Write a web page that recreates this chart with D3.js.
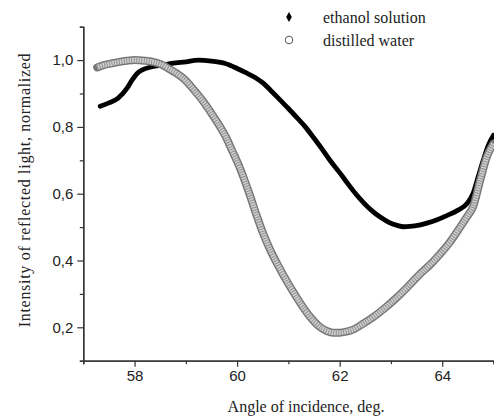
<!DOCTYPE html>
<html>
<head>
<meta charset="utf-8">
<script src="https://cdn.jsdelivr.net/npm/d3@7"></script>
<style>
  html, body { margin: 0; padding: 0; background: #fff; }
  svg { display: block; }
</style>
</head>
<body>
<div id="chart"></div>
<script>
// chart size
const width = 494;
const height = 418;

// data
const xTicks = [58, 60, 62, 64];
const xMinor = [57, 59, 61, 63, 65];
const yTicks = [0.2, 0.4, 0.6, 0.8, 1.0];
const yMinor = [0.1, 0.3, 0.5, 0.7, 0.9, 1.1];
const seriesNames = ["ethanol solution", "distilled water"];

const ethanolAngle = [57.33, 57.5, 57.68, 57.85, 57.95, 58.05, 58.14, 58.34, 58.55, 58.73,
  59.0, 59.24, 59.5, 59.77, 60.0, 60.16, 60.35, 60.49, 60.65, 60.84,
  61.0, 61.17, 61.33, 61.48, 61.65, 61.81, 62.0, 62.15, 62.3, 62.46,
  62.62, 62.79, 62.95, 63.12, 63.25, 63.37, 63.55, 63.7, 63.9, 64.1,
  64.3, 64.48, 64.6, 64.7, 64.8, 64.9, 65.0];
const ethanolIntensity = [0.862, 0.872, 0.886, 0.915, 0.94, 0.96, 0.97, 0.98, 0.985, 0.99,
  0.995, 1.0, 0.997, 0.99, 0.975, 0.963, 0.948, 0.933, 0.91, 0.88,
  0.855, 0.827, 0.8, 0.77, 0.735, 0.7, 0.663, 0.632, 0.602, 0.574,
  0.55, 0.53, 0.515, 0.505, 0.501, 0.502, 0.506, 0.512, 0.522, 0.535,
  0.55, 0.57, 0.6, 0.65, 0.7, 0.745, 0.775];

const waterAngle = [57.27, 57.4, 57.55, 57.68, 57.85, 58.0, 58.2, 58.4, 58.55, 58.66,
  58.8, 58.99, 59.15, 59.32, 59.48, 59.63, 59.78, 59.9, 60.06, 60.25,
  60.38, 60.51, 60.65, 60.8, 61.03, 61.2, 61.42, 61.6, 61.75, 61.87,
  62.0, 62.13, 62.26, 62.45, 62.65, 62.9, 63.12, 63.35, 63.57, 63.78,
  63.96, 64.15, 64.35, 64.5, 64.6, 64.74, 64.87, 65.0];
const waterIntensity = [0.978, 0.985, 0.99, 0.994, 0.998, 1.0, 0.998, 0.993, 0.985, 0.975,
  0.962, 0.94, 0.912, 0.88, 0.845, 0.81, 0.77, 0.73, 0.675, 0.595,
  0.535, 0.48, 0.43, 0.385, 0.322, 0.28, 0.232, 0.203, 0.189, 0.184,
  0.184, 0.187, 0.193, 0.21, 0.23, 0.26, 0.29, 0.325, 0.36, 0.39,
  0.42, 0.455, 0.5, 0.535, 0.56, 0.64, 0.71, 0.75];

const margin = { left: 83.3, right: 0.5, top: 26.7, bottom: 57.3 };

const svg = d3.select("#chart")
  .append("svg")
  .attr("width", width)
  .attr("height", height);

const x = d3.scaleLinear().domain([57, 65]).range([margin.left, width - margin.right]);
const y = d3.scaleLinear().domain([0.1, 1.1]).range([height - margin.bottom, margin.top]);

const fmt = d => d3.format(".1f")(d).replace(".", ",");

// axes
const axisColor = "#333";
const xAxis = svg.append("g")
  .attr("transform", "translate(0," + y(0.1) + ")")
  .call(d3.axisBottom(x).tickValues(xTicks).tickSize(6).tickPadding(4).tickSizeOuter(0));
xAxis.append("g")
  .call(d3.axisBottom(x).tickValues(xMinor).tickSize(3.5).tickFormat(""));

const yAxis = svg.append("g")
  .attr("transform", "translate(" + x(57) + ",0)")
  .call(d3.axisLeft(y).tickValues(yTicks).tickSize(6).tickPadding(4).tickFormat(fmt).tickSizeOuter(0));
yAxis.append("g")
  .call(d3.axisLeft(y).tickValues(yMinor).tickSize(3.5).tickFormat(""));

svg.selectAll(".domain").attr("stroke", axisColor).attr("stroke-width", 1.3);
svg.selectAll(".tick line").attr("stroke", axisColor).attr("stroke-width", 1.2);
svg.selectAll(".tick text")
  .style("font-family", "Liberation Sans, Arial, sans-serif")
  .style("font-size", "15px")
  .attr("fill", "#222");

// axis titles
svg.append("text")
  .attr("x", 306)
  .attr("y", 412)
  .attr("text-anchor", "middle")
  .style("font-family", "Liberation Serif, Times New Roman, serif")
  .style("font-size", "16px")
  .attr("fill", "#222")
  .text("Angle of incidence, deg.");

svg.append("text")
  .attr("transform", "translate(30,190) rotate(-90)")
  .attr("text-anchor", "middle")
  .style("font-family", "Liberation Serif, Times New Roman, serif")
  .style("font-size", "16px")
  .style("letter-spacing", "0.7px")
  .attr("fill", "#222")
  .text("Intensity of reflected light, normalized");

// curves
const line = d3.line()
  .x(d => x(d[0]))
  .y(d => y(d[1]))
  .curve(d3.curveMonotoneX);

const ethanol = d3.zip(ethanolAngle, ethanolIntensity);
const water = d3.zip(waterAngle, waterIntensity);

svg.append("path")
  .datum(ethanol)
  .attr("d", line)
  .attr("fill", "none")
  .attr("stroke", "#000")
  .attr("stroke-width", 4.8)
  .attr("stroke-linecap", "round");

// dense open circle markers read as a grey striped band
svg.append("path")
  .datum(water)
  .attr("d", line)
  .attr("fill", "none")
  .attr("stroke", "#777")
  .attr("stroke-width", 8)
  .attr("stroke-linecap", "round");
svg.append("path")
  .datum(water)
  .attr("d", line)
  .attr("fill", "none")
  .attr("stroke", "#cfcfcf")
  .attr("stroke-width", 5);
svg.append("path")
  .datum(water)
  .attr("d", line)
  .attr("fill", "none")
  .attr("stroke", "#8a8a8a")
  .attr("stroke-width", 5)
  .attr("stroke-dasharray", "0.9 1.6");

// legend
const legend = svg.append("g");
legend.append("path")
  .attr("transform", "translate(289,17)")
  .attr("d", d3.symbol().type(d3.symbolDiamond).size(28))
  .attr("fill", "#000");
legend.append("circle")
  .attr("cx", 289)
  .attr("cy", 40)
  .attr("r", 3.8)
  .attr("fill", "none")
  .attr("stroke", "#555")
  .attr("stroke-width", 1);

legend.selectAll("text.leg")
  .data(seriesNames)
  .join("text")
  .attr("class", "leg")
  .attr("x", 323)
  .attr("y", (d, i) => 22.5 + i * 23)
  .style("font-family", "Liberation Serif, Times New Roman, serif")
  .style("font-size", "16px")
  .attr("fill", "#222")
  .text(d => d);
</script>
</body>
</html>
